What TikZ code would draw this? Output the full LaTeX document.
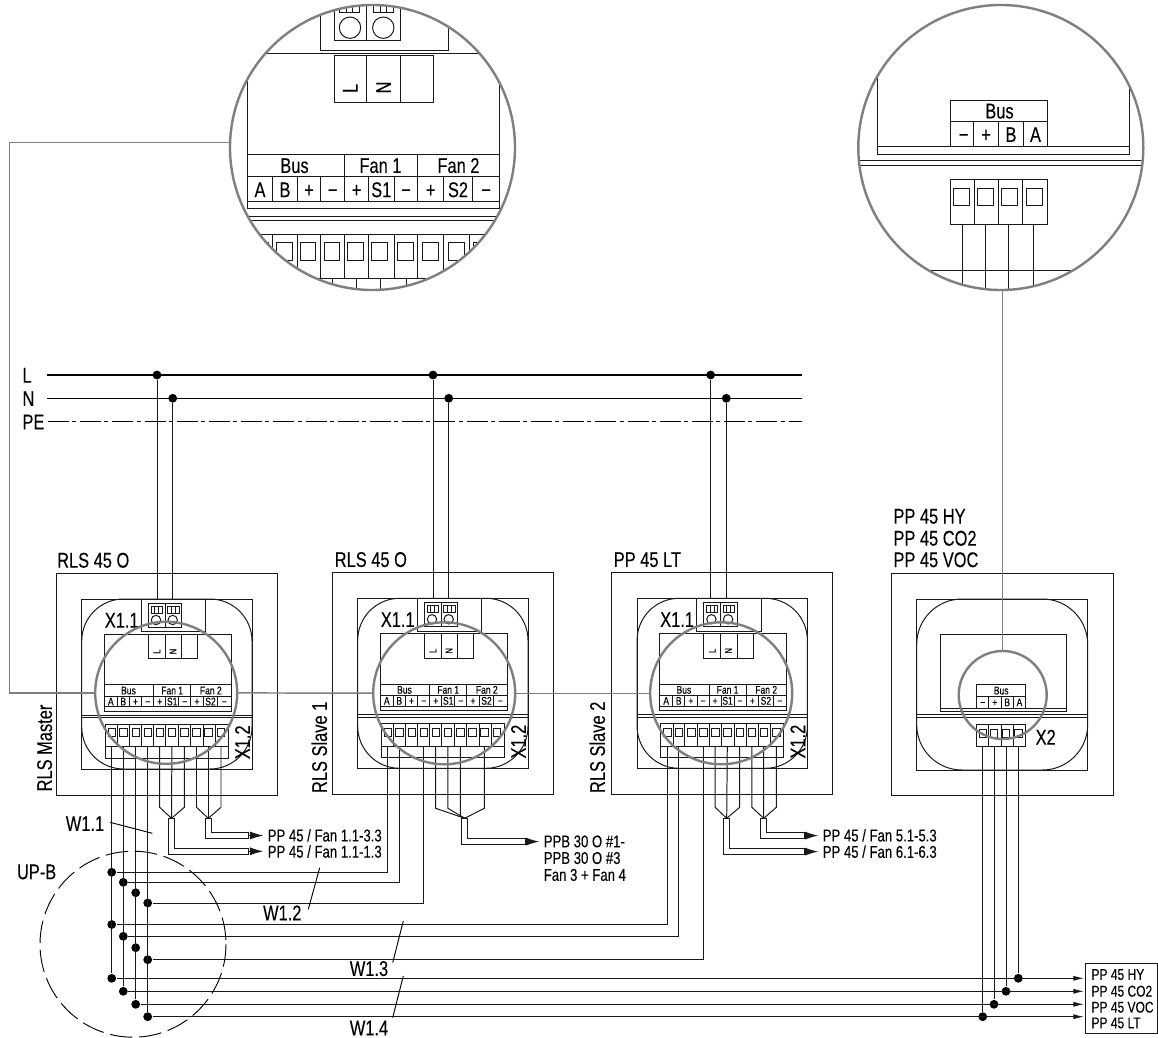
\documentclass[tikz,border=0pt]{standalone}
\usepackage{fontspec}
\setmainfont[FakeStretch=0.77,FakeBold=0.12]{Liberation Sans}
\usetikzlibrary{arrows.meta}
\definecolor{ringgray}{HTML}{7F7F7F}
\tikzset{
  lab/.style={inner sep=0pt, font=\fontsize{#1}{#1}\selectfont, text height={0.716*#1pt}, text depth=0pt},
  jdot/.style={circle, fill=black, draw=none, inner sep=0pt, minimum size=6.6pt},
  zoomring/.style={circle, draw=ringgray, line width=1.8pt, inner sep=0pt, minimum size=#1},
  greylink/.style={draw=ringgray, line width=1.1pt},
  wire/.style={draw=black!90, line width=0.74pt},
  mains/.style={draw=black, line width=1.1pt},
  finewire/.style={draw=black!90, line width=0.6pt},
  busarrow/.style={wire, -{Latex[length=8pt,width=3.8pt]}},
  cablearrow/.style={wire, -{Latex[length=10pt,width=6pt]}},
  leader/.style={draw=black, line width=0.7pt},
}
% one RLS / LT wall unit, drawn in the coordinates of the first unit
% #1 prefix, #2 #3 shift, #4 x of side label, #5 side label, #6 title, #7 x of title
\newcommand{\wallunit}[7]{%
\begin{scope}[shift={(#2,#3)}]
  \draw[wire] (56.5,573) rectangle (277.5,795.5);
  \draw[wire] (81.7,599) rectangle (252,769);
  \draw[wire, rounded corners=31.5pt] (81.7,599) rectangle (252,769);
  \draw[wire] (141,599) rectangle (205.7,631.7);
  \draw[wire] (148.3,603.3) rectangle (165,627.3);
  \draw[wire] (165,603.3) rectangle (181.7,627.3);
  \foreach \gx in {151,167.6}{
    \draw[finewire] (\gx,606) rectangle ++(11.4,7.3);
    \draw[finewire] (\gx+3.8,606) -- ++(0,7.3) (\gx+7.6,606) -- ++(0,7.3);
  }
  \draw[wire] (156,620) circle (4.7);
  \draw[wire] (172.7,620) circle (4.7);
  \draw[wire] (104.3,634) rectangle (231,711.3);
  \draw[wire] (148.3,634) rectangle (165,658.7);
  \draw[wire] (165,634) rectangle (181.7,658.7);
  \draw[wire] (181.7,634) rectangle (197.7,658.7);
  \node[lab=7.5, rotate=90] (#1L) at (156.7,651.5) {L};
  \node[lab=7.5, rotate=90] (#1N) at (172.9,651.5) {N};
  \draw[wire] (104.3,684.7) -- (231,684.7) (104.3,696) -- (231,696) (104.3,706.7) -- (231,706.7);
  \draw[wire] (153.7,684.7) -- (153.7,696) (190.7,684.7) -- (190.7,696);
  \foreach \dv in {117.3,129.3,141.7,153.7,165.7,178.7,190.7,203.3,217.7}{
    \draw[finewire] (\dv,696) -- (\dv,706.7);
  }
  \node[lab=8.3] (#1hb) at (128.5,690.4) {Bus};
  \node[lab=8.3] (#1hf) at (172.2,690.4) {Fan 1};
  \node[lab=8.3] (#1hg) at (210.8,690.4) {Fan 2};
  \foreach \ci/\cx/\ct in {1/110.8/A,2/123.3/B,3/135.5/+,4/147.7/−,5/159.7/+,6/172.2/S1,7/184.7/−,8/197/+,9/210.5/S2,10/224.4/−}{
    \node[lab=8.3] (#1c\ci) at (\cx,701.4) {\ct};
  }
  \draw[wire] (81.7,715) -- (252,715) (81.7,717.7) -- (252,717.7);
  \draw[wire] (105,724.3) rectangle (228.3,746.7);
  \draw[wire] (105,746.7) rectangle (228.3,758.3);
  \foreach \dv in {117.7,129.3,141.7,153.7,165.7,178.7,190.7,203.3,215.3}{
    \draw[wire] (\dv,724.3) -- (\dv,746.7);
  }
  \foreach \pi/\px in {1/111.7,2/123.3,3/135.7,4/147.7,5/159.7,6/171.9,7/184.3,8/196.5,9/208.3,10/221}{
    \draw[finewire] (\px-3.8,728.7) rectangle (\px+3.8,736.7);
    \coordinate (#1p\pi) at (\px,746.7);
  }
  \coordinate (#1top) at (160,599.5);
  \node[lab=16] (#1x1) at (121.7,620) {X1.1};
  \node[lab=16, rotate=90] (#1x2) at (242.3,742.3) {X1.2};
  \node[lab=16, rotate=90] (#1side) at (#4,748) {#5};
  \node[lab=16, anchor=west] (#1title) at (#7,560) {#6};
\end{scope}}
\begin{document}
\begin{tikzpicture}[x=0.75pt, y=-0.75pt, line width=0.74pt]
\useasboundingbox (0,0) rectangle (1158,1038);
\fill[white] (0,0) rectangle (1158,1038);

% ---------- mains ----------
\node[lab=16, anchor=west] (lL) at (22,375) {L};
\node[lab=16, anchor=west] (lN) at (22,398.3) {N};
\node[lab=16, anchor=west] (lPE) at (22,421.7) {PE};
\coordinate (Ls) at (47,375);   \coordinate (Le) at (802,375);
\coordinate (Ns) at (47,398.3); \coordinate (Ne) at (802,398.3);
\coordinate (Ps) at (48,421.7); \coordinate (Pe) at (802,421.7);
\draw[mains] (Ls) -- (Le);
\draw[mains] (Ns) -- (Ne);
\draw[mains, dash pattern=on 15.75pt off 2.4pt on 3pt off 3pt] (Ps) -- (Pe);
\node[jdot] (L1) at (157,375) {};
\node[jdot] (N1) at (172.7,398.3) {};
\node[jdot] (L2) at (433,375) {};
\node[jdot] (N2) at (448.7,398.3) {};
\node[jdot] (L3) at (710.7,375) {};
\node[jdot] (N3) at (726.3,398.3) {};

% ---------- wall units ----------
\wallunit{a}{0}{0}{44.3}{RLS Master}{RLS 45 O}{56.7}
\wallunit{b}{276}{-0.7}{43.3}{RLS Slave 1}{RLS 45 O}{58.3}
\wallunit{c}{555.4}{-0.7}{41.9}{RLS Slave 2}{PP 45 LT}{57.9}

\foreach \n/\d in {1/a,2/b,3/c}{
  \draw[wire] (L\n) -- (L\n |- \d top);
  \draw[wire] (N\n) -- (N\n |- \d top);
}

% ---------- fourth unit ----------
\draw[wire] (891.7,573.3) rectangle (1113.3,795.7);
\draw[wire] (916.7,599) rectangle (1087.7,770);
\draw[wire, rounded corners=34pt] (916.7,599) rectangle (1087.7,770);
\draw[wire] (940.3,634) rectangle (1066.3,711.7);
\draw[wire] (940.3,708.3) -- (1066.3,708.3);
\draw[wire] (976.7,684.7) rectangle (1025.7,708.3);
\draw[wire] (976.7,696) -- (1025.7,696);
\foreach \dv in {988.7,1001,1013.3}{ \draw[finewire] (\dv,696) -- (\dv,708.3); }
\node[lab=8.3] (dhb) at (1001.2,690.4) {Bus};
\foreach \ci/\cx/\ct in {1/982.7/−,2/994.8/+,3/1007.2/B,4/1019.5/A}{
  \node[lab=8.3] (dc\ci) at (\cx,702.2) {\ct};
}
\draw[wire] (916.7,714.7) -- (1087.7,714.7) (916.7,717.7) -- (1087.7,717.7);
\draw[wire] (976.7,724.3) rectangle (1025.7,746.7);
\foreach \dv in {988.7,1001,1013.3}{ \draw[wire] (\dv,724.3) -- (\dv,746.7); }
\foreach \pi/\px in {1/982.7,2/994,3/1006,4/1018.3}{
  \draw[finewire] (\px-3.8,729) rectangle (\px+3.8,737);
  \coordinate (dp\pi) at (\px,746.7);
}
\node[lab=16] (dx2) at (1045.7,737) {X2};
\node[lab=16, anchor=west] (dt1) at (893,516) {PP 45 HY};
\node[lab=16, anchor=west] (dt2) at (893,538) {PP 45 CO2};
\node[lab=16, anchor=west] (dt3) at (893,559.5) {PP 45 VOC};

% ---------- bus junctions ----------
\node[jdot] (a1) at (111.7,872.3) {};
\node[jdot] (a2) at (123.3,882.3) {};
\node[jdot] (a3) at (135.7,892.7) {};
\node[jdot] (a4) at (147.7,903) {};
\node[jdot] (b1) at (111.7,924.5) {};
\node[jdot] (b2) at (123.3,936.3) {};
\node[jdot] (b3) at (135.7,947.7) {};
\node[jdot] (b4) at (147.7,959.7) {};
\node[jdot] (e1) at (111.7,978.3) {};
\node[jdot] (e2) at (123.3,991.3) {};
\node[jdot] (e3) at (135.7,1004.3) {};
\node[jdot] (e4) at (147.7,1016.7) {};
\draw[wire] (ap1) -- (e1);
\draw[wire] (ap2) -- (e2);
\draw[wire] (ap3) -- (e3);
\draw[wire] (ap4) -- (e4);
\draw[wire] (bp1) |- (a1);
\draw[wire] (bp2) |- (a2);
\draw[wire] (bp4) |- (a4);
\draw[wire] (cp1) |- (b1);
\draw[wire] (cp2) |- (b2);
\draw[wire] (cp4) |- (b4);

% ---------- output box ----------
\draw[wire] (1085.3,963.7) rectangle (1157.7,1033.3);
\node[lab=11.7, anchor=west] (o1) at (1091,974.3) {PP 45 HY};
\node[lab=11.7, anchor=west] (o2) at (1091,991) {PP 45 CO2};
\node[lab=11.7, anchor=west] (o3) at (1091,1007) {PP 45 VOC};
\node[lab=11.7, anchor=west] (o4) at (1091,1022.7) {PP 45 LT};
\node[jdot] (f1) at (1018.3,978.3) {};
\node[jdot] (f2) at (1006,991.3) {};
\node[jdot] (f3) at (994,1004.3) {};
\node[jdot] (f4) at (982.7,1016.7) {};
\coordinate (t1) at (1084,978.3);
\coordinate (t2) at (1084,991.3);
\coordinate (t3) at (1084,1004.3);
\coordinate (t4) at (1084,1016.7);
\foreach \i in {1,2,3,4}{
  \draw[busarrow] (e\i) -- (t\i);
}
\draw[wire] (dp4) -- (f1);
\draw[wire] (dp3) -- (f2);
\draw[wire] (dp2) -- (f3);
\draw[wire] (dp1) -- (f4);

% ---------- fan cables ----------
% unit a
\coordinate (ya) at (0,807.3);
\coordinate (ca) at (171.5,818.3);
\coordinate (cb) at (208.3,818.3);
\draw[wire] (ap5) -- (ap5 |- ya) -- (ca);
\draw[wire] (ap6) -- (ca);
\draw[wire] (ap7) -- (ap7 |- ya) -- (ca);
\draw[wire] (ap8) -- (ap8 |- ya) -- (cb);
\draw[wire] (ap9) -- (cb);
\draw[wire] (ap10) -- (ap10 |- ya) -- (cb);
\draw[wire] (168.3,818.3) |- (248.3,854.3) -- (248.3,848.3) -| (174.3,818.3) -- cycle;
\draw[wire] (205.3,818.3) |- (248.3,838.7) -- (248.3,832.3) -| (211.3,818.3) -- cycle;
\node[lab=12.8, anchor=west] (fa1) at (267.3,851.5) {PP 45 / Fan 1.1-1.3};
\node[lab=12.8, anchor=west] (fa2) at (267.3,835.3) {PP 45 / Fan 1.1-3.3};
\coordinate (sa1) at (248.3,851.3);
\coordinate (sa2) at (248.3,835.5);
\draw[cablearrow] (sa1) -- ([xshift=-3pt]fa1.west |- sa1);
\draw[cablearrow] (sa2) -- ([xshift=-3pt]fa2.west |- sa2);
% unit b
\coordinate (yb) at (0,808.3);
\coordinate (cc) at (464.7,818.3);
\draw[wire] (bp5) -- (bp5 |- yb) -- (cc);
\draw[wire] (bp6) -- (bp6 |- yb) -- (cc);
\draw[wire] (bp7) -- (bp7 |- 0,816) -- (cc);
\draw[wire] (bp9) -- (bp9 |- yb) -- (cc);
\draw[wire] (461.7,818.3) |- (525,844.6) -- (525,838.7) -| (467.7,818.3) -- cycle;
\node[lab=12.8, anchor=west] (fb1) at (543.3,841.2) {PPB 30 O \#1-};
\node[lab=12.8, anchor=west] (fb2) at (543.3,857.8) {PPB 30 O \#3};
\node[lab=12.8, anchor=west] (fb3) at (543.3,874.7) {Fan 3 + Fan 4};
\coordinate (sb1) at (525,841.6);
\draw[cablearrow] (sb1) -- ([xshift=-3pt]fb1.west |- sb1);
% unit c
\coordinate (cd) at (726.7,818.3);
\coordinate (ce) at (763.7,818.3);
\draw[wire] (cp5) -- (cp5 |- ya) -- (cd);
\draw[wire] (cp6) -- (cd);
\draw[wire] (cp7) -- (cp7 |- ya) -- (cd);
\draw[wire] (cp8) -- (cp8 |- ya) -- (ce);
\draw[wire] (cp9) -- (ce);
\draw[wire] (cp10) -- (cp10 |- ya) -- (ce);
\draw[wire] (723.7,818.3) |- (804.3,854.6) -- (804.3,848.7) -| (729.7,818.3) -- cycle;
\draw[wire] (760.7,818.3) |- (804.3,838.7) -- (804.3,832.5) -| (766.7,818.3) -- cycle;
\node[lab=12.8, anchor=west] (fc1) at (822.3,851.7) {PP 45 / Fan 6.1-6.3};
\node[lab=12.8, anchor=west] (fc2) at (822.3,835.3) {PP 45 / Fan 5.1-5.3};
\coordinate (sc1) at (804.3,851.6);
\coordinate (sc2) at (804.3,835.6);
\draw[cablearrow] (sc1) -- ([xshift=-3pt]fc1.west |- sc1);
\draw[cablearrow] (sc2) -- ([xshift=-3pt]fc2.west |- sc2);

% ---------- W labels and UP-B ----------
\node[lab=16] (w1) at (85,823.3) {W1.1};
\node[lab=16] (w2) at (282.3,912.7) {W1.2};
\node[lab=16] (w3) at (369,968.3) {W1.3};
\node[lab=16] (w4) at (369,1027.7) {W1.4};
\coordinate (q1) at (152.3,833.3);
\coordinate (q2) at (319.7,867.7);
\coordinate (q3) at (403.3,921);
\coordinate (q4) at (403.3,976);
\draw[leader] (110,822.3) -- (q1);
\draw[leader] (308.3,909.3) -- (q2);
\draw[leader] (392.7,962.7) -- (q3);
\draw[leader] (392.7,1017.7) -- (q4);
\node[lab=16, anchor=west] (upb) at (16.5,871.5) {UP-B};
\draw[draw=black, line width=0.7pt, dash pattern=on 17pt off 5pt] (133,944.2) circle (93);

% ---------- left magnified view ----------
\begin{scope}
  \clip (372.5,147.5) circle (141.5);
  \draw[wire] (320.7,-5) rectangle (448.3,50.3);
  \draw[wire] (334.3,-5) rectangle (366.7,40.3);
  \draw[wire] (366.7,-5) rectangle (400.7,40.3);
  \foreach \gx in {339.3,373.3}{
    \draw[wire] (\gx,5) rectangle ++(20.3,7.3);
    \draw[wire] (\gx+6.8,5) -- ++(0,7.3) (\gx+13.6,5) -- ++(0,7.3);
  }
  \draw[wire] (350,27.7) circle (10.7);
  \draw[wire] (383.3,27.7) circle (10.7);
  \draw[wire] (247.3,53.3) rectangle (499.3,208.3);
  \draw[wire] (334.3,55.3) rectangle (366.7,102.7);
  \draw[wire] (366.7,55.3) rectangle (400.7,102.7);
  \draw[wire] (400.7,55.3) rectangle (433.3,102.7);
  \node[lab=16, rotate=90] (mL) at (350,88.3) {L};
  \node[lab=16, rotate=90] (mN) at (383.3,87.5) {N};
  \draw[wire] (247.3,154.3) -- (499.3,154.3) (247.3,176) -- (499.3,176) (247.3,201.7) -- (499.3,201.7);
  \draw[wire] (344.3,154.3) -- (344.3,176) (417.7,154.3) -- (417.7,176);
  \foreach \dv in {272.7,297,320.7,344.3,368.7,394,417.7,443.7,472.3}{
    \draw[wire] (\dv,176) -- (\dv,201.7);
  }
  \node[lab=16] (mhb) at (294.5,165.3) {Bus};
  \node[lab=16] (mhf) at (380.5,165.3) {Fan 1};
  \node[lab=16] (mhg) at (458.5,165.3) {Fan 2};
  \foreach \ci/\cx/\ct in {1/260/A,2/285/B,3/309/+,4/332.5/−,5/356.5/+,6/381.3/S1,7/406/−,8/430.7/+,9/458/S2,10/486/−}{
    \node[lab=16] (mc\ci) at (\cx,189.5) {\ct};
  }
  \draw[wire] (240,216) -- (505,216) (240,220.7) -- (505,220.7);
  \draw[wire] (245,234.3) -- (500,234.3) (245,278) -- (500,278);
  \foreach \dv in {272.7,297,320.7,344.3,368.7,394,417.7,443.7,469.3}{
    \draw[wire] (\dv,234.3) -- (\dv,278);
  }
  \foreach \sx in {252.7,276.3,300,324,347.7,371.7,397.3,422.7,448.3,473.7}{
    \draw[wire] (\sx,242.7) rectangle ++(15.8,17.6);
  }
  \foreach \wx in {332.7,356.7,380.3,406.7,309,430}{
    \draw[wire] (\wx,278) -- (\wx,295);
  }
\end{scope}
\node[zoomring=285*0.75pt] (bigL) at (372.5,147.5) {};

% ---------- right magnified view ----------
\begin{scope}
  \clip (1000.8,147.5) circle (141.5);
  \draw[wire] (877.3,60) -- (877.3,154.3) -- (1129,154.3) -- (1129,60);
  \draw[wire] (877.3,146.7) -- (1129,146.7);
  \draw[wire] (950.3,100) rectangle (1047.7,146.7);
  \draw[wire] (950.3,121) -- (1047.7,121);
  \foreach \dv in {973.3,998.3,1023.3}{ \draw[wire] (\dv,121) -- (\dv,146.7); }
  \node[lab=16] (rhb) at (999.5,110.8) {Bus};
  \foreach \ci/\cx/\ct in {1/963.5/−,2/986/+,3/1011/B,4/1035.5/A}{
    \node[lab=16] (rc\ci) at (\cx,134.3) {\ct};
  }
  \draw[wire] (850,160.7) -- (1150,160.7) (850,165.7) -- (1150,165.7);
  \draw[wire] (950.3,179.3) rectangle (1047.7,224);
  \foreach \dv in {974.3,998.3,1022.3}{ \draw[wire] (\dv,179.3) -- (\dv,224); }
  \foreach \sx in {953.7,977.7,1001.3,1026.7}{
    \draw[wire] (\sx,188.3) rectangle ++(16,16.7);
  }
  \foreach \wx in {962.3,985,1008.3,1033.7}{
    \draw[wire] (\wx,224) -- (\wx,295);
  }
  \draw[wire] (900,270) -- (1100,270);
\end{scope}
\node[zoomring=285*0.75pt] (bigR) at (1000.8,147.5) {};

% ---------- small rings and grey links ----------
\node[zoomring=142*0.75pt] (ring1) at (166.2,692.8) {};
\node[zoomring=142*0.75pt] (ring2) at (444.2,693.3) {};
\node[zoomring=142*0.75pt] (ring3) at (721.2,693.3) {};
\node[zoomring=88*0.75pt] (ring4) at (1002.7,695) {};
\coordinate (lk) at (9.3,692.8);
\draw[greylink] (bigL.178.07) -| (lk) -- (ring1);
\draw[greylink] (ring1) -- (ring2);
\draw[greylink] (ring2) -- (ring3);
\draw[greylink] (ring4.north) -- (ring4.north |- bigR.south);
\end{tikzpicture}
\end{document}
